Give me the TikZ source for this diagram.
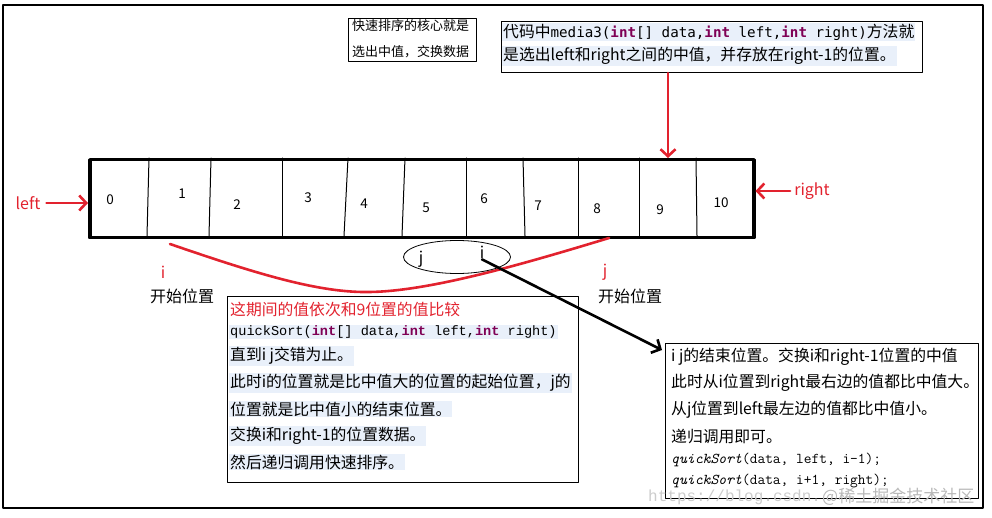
\documentclass[tikz,border=0pt]{standalone}
\usepackage{fontspec}
\setmainfont{Noto Sans CJK SC}
\newfontfamily\codefont{DejaVu Sans Mono}
\newfontfamily\simmono{Liberation Mono}
\usetikzlibrary{arrows.meta,shapes.geometric}
\definecolor{myred}{RGB}{226,34,46}
\definecolor{kwcol}{RGB}{127,0,85}
\definecolor{hlblue}{RGB}{233,240,250}
\newcommand{\kw}[1]{\textbf{\color{kwcol}#1}}
\tikzset{
  txt/.style={anchor=west, inner sep=1pt, font=\fontsize{15.8}{18}\selectfont},
  hl/.style={txt, fill=hlblue},
  txtbox/.style={draw, line width=1pt, anchor=north west, inner sep=0pt},
  redarr/.style={draw=myred, line width=2.6pt, -{Straight Barb[length=7pt,width=15pt]}},
  blkarr/.style={draw=black, line width=2.6pt, -{Straight Barb[length=7pt,width=15pt]}},
  lbl/.style={font=\fontsize{16}{18}\selectfont, inner sep=1pt},
  num/.style={font=\fontsize{13.5}{15}\selectfont, inner sep=1pt},
}
\begin{document}
\begin{tikzpicture}[x=1pt, y=-1pt, line join=round, line cap=round]
  \useasboundingbox (0,0) rectangle (992,518);
  \draw[line width=1.2pt] (3,5) rectangle (983,508);
  % top notes
  \node[txtbox, minimum width=128pt, minimum height=43pt] (box1) at (348,18) {};
  \node[txt, font=\fontsize{13}{15}\selectfont] (b1a) at (351,26) {快速排序的核心就是};
  \node[txt, font=\fontsize{13}{15}\selectfont] (b1b) at (351,52) {选出中值，交换数据};
  \node[txtbox, minimum width=421pt, minimum height=51pt] (box2) at (501,21) {};
  \node[hl] (b2a) at (502,32) {代码中{\codefont\fontsize{14.2}{17}\selectfont media3(\kw{int}[] data,\kw{int} left,\kw{int} right)}方法就};
  \node[hl] (b2b) at (502,56) {是选出left和right之间的中值，并存放在right-1的位置。};
  % the array
  \node[draw, line width=3.5pt, anchor=north west, minimum width=664pt, minimum height=78pt, inner sep=0pt] (arr) at (88,158) {};
  \foreach \a/\b in {149/147,211/209,282/282,348/344,405/402,466/466,523/525,578/578,639/639,696/697}
    \draw[line width=1pt] (\a,158) -- (\b,236);
  \foreach \n/\x/\y in {0/110/200,1/182/194,2/237/205,3/308/198,4/364/204,5/426/208,6/484/199,7/538/206,8/597/209,9/660/210,10/721/203}
    \node[num] (c\n) at (\x,\y) {\n};
  \coordinate (m9) at (668,158);
  \draw[redarr] (box2.south -| m9) -- (m9);
  \node[lbl, text=myred] (lft) at (28,203) {left};
  \draw[redarr] ([xshift=5pt]lft.east) -- (arr.west |- lft.east);
  \node[lbl, text=myred] (rgt) at (812,191) {right};
  \draw[redarr] ([xshift=-3pt]rgt.west) -- (arr.east |- rgt.west);
  % i and j
  \draw[myred, line width=2.6pt] (170,244) .. controls (260,275) and (320,293) .. (370,292)
    .. controls (430,291) and (520,265) .. (609,238);
  \node[lbl, text=myred] (i0) at (163,272) {i};
  \node[lbl] (s0) at (182,296) {开始位置};
  \node[lbl, text=myred] (j0) at (605,272) {j};
  \node[lbl] (s1) at (630,296) {开始位置};
  \node[draw, ellipse, line width=0.8pt, minimum width=107pt, minimum height=33pt, inner sep=0pt] (ell) at (457,257) {};
  \node[lbl] (jj) at (421,259) {j};
  \node[lbl] (ii) at (482,252) {i};
  % bottom notes
  \node[txtbox, minimum width=351pt, minimum height=186pt] (box3) at (227,296) {};
  \node[txt, text=myred] (b3a) at (229,309) {这期间的值依次和9位置的值比较};
  \node[hl] (b3b) at (229,332) {\simmono\fontsize{13.6}{16}\selectfont quickSort(\kw{int}[] data,\kw{int} left,\kw{int} right)};
  \node[hl] (b3c) at (229,356) {直到i j交错为止。};
  \node[hl] (b3d) at (229,383) {此时i的位置就是比中值大的位置的起始位置，j的};
  \node[hl] (b3e) at (229,409) {位置就是比中值小的结束位置。};
  \node[hl] (b3f) at (229,436) {交换i和right-1的位置数据。};
  \node[hl] (b3g) at (229,462) {然后递归调用快速排序。};
  \node[txtbox, minimum width=313pt, minimum height=155pt] (box4) at (665,343) {};
  \node[txt] (b4a) at (670,357) {i j的结束位置。交换i和right-1位置的中值};
  \node[txt] (b4b) at (670,383) {此时从i位置到right最右边的值都比中值大。};
  \node[txt] (b4c) at (670,410) {从j位置到left最左边的值都比中值小。};
  \node[txt] (b4d) at (670,437) {递归调用即可。};
  \node[txt, font=\fontsize{15}{18}\selectfont] (b4e) at (670,460) {\ttfamily{\itshape quickSort}(data, left, i-1);};
  \node[txt, font=\fontsize{15}{18}\selectfont] (b4f) at (670,481) {\ttfamily{\itshape quickSort}(data, i+1, right);};
  \draw[blkarr] (ii.south) -- ([xshift=-3pt,yshift=-7pt]box4.north west);
  % watermark
  \node[anchor=west, inner sep=0pt, text=gray!40, font=\simmono\fontsize{16}{18}\selectfont] (wm1) at (648,497) {https://blog.csdn.};
  \node[anchor=west, inner sep=0pt, text=gray!55, font=\fontsize{17}{18}\selectfont] (wm2) at (822,497) {@稀土掘金技术社区};
\end{tikzpicture}
\end{document}
